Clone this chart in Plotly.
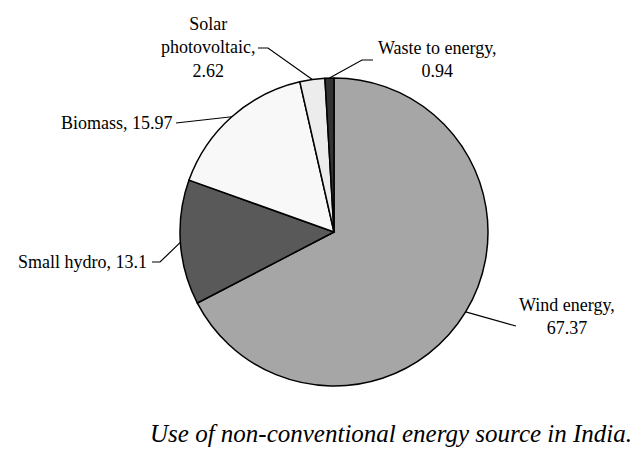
import math
import plotly.graph_objects as go

labels = ["Wind energy", "Small hydro", "Biomass", "Solar photovoltaic", "Waste to energy"]
values = [67.37, 13.1, 15.97, 2.62, 0.94]
label_texts = ["Wind energy,<br>67.37", "Small hydro, 13.1", "Biomass, 15.97",
               "Solar<br>photovoltaic,<br>2.62", "Waste to energy,<br>0.94"]
colors = ["#a6a6a6", "#595959", "#f8f8f8", "#ececec", "#333333"]
caption = "Use of non-conventional energy source in India."

W, H = 640, 459
CX, CY, R = 334, 232, 154
FONT = "Liberation Serif, Times New Roman, DejaVu Serif, serif"

def px(x):
    return x / W

def py(y):
    return 1 - y / H

fig = go.Figure(go.Pie(
    labels=labels, values=values, sort=False, direction="clockwise", rotation=0,
    marker=dict(colors=colors, line=dict(color="black", width=1.5)),
    textinfo="none", hoverinfo="label+value", showlegend=False,
    domain=dict(x=[px(CX - R), px(CX + R)], y=[py(CY + R), py(CY - R)]),
))

# label placement (layout): anchor point, xanchor, elbow points of leader
label_layout = [
    dict(x=567, y=316, xanchor="center", elbow=[(516, 326)]),
    dict(x=149, y=262, xanchor="right", elbow=[(160, 262), (152, 262)]),
    dict(x=175, y=123, xanchor="right", elbow=[(176, 123)]),
    dict(x=208, y=47, xanchor="center", elbow=[(268, 48), (258, 48)]),
    dict(x=437, y=60, xanchor="center", elbow=[(362, 60), (373, 60)]),
]

total = sum(values)
cum = 0.0
shapes = []
annotations = []
for v, txt, lay in zip(values, label_texts, label_layout):
    mid = (cum + v / 2) / total * 2 * math.pi
    cum += v
    ex = CX + R * math.sin(mid)
    ey = CY - R * math.cos(mid)
    pts = [(ex, ey)] + lay["elbow"]
    path = "M " + " L ".join(f"{px(a)} {py(b)}" for a, b in pts)
    shapes.append(dict(type="path", xref="paper", yref="paper", path=path,
                       line=dict(color="black", width=1.2)))
    annotations.append(dict(x=px(lay["x"]), y=py(lay["y"]), xref="paper", yref="paper",
                            text=txt, showarrow=False, xanchor=lay["xanchor"], yanchor="middle",
                            align="center",
                            font=dict(family=FONT, size=18, color="black")))

annotations.append(dict(x=px(634), y=py(433), xref="paper", yref="paper",
                        text=f"<i>{caption}</i>", showarrow=False, xanchor="right", yanchor="middle",
                        font=dict(family=FONT, size=25, color="black")))

fig.update_layout(width=W, height=H, margin=dict(l=0, r=0, t=0, b=0),
                  paper_bgcolor="white", plot_bgcolor="white",
                  font=dict(family=FONT),
                  shapes=shapes, annotations=annotations)
fig.write_html("out.html", config={"displayModeBar": False},
               post_script="document.body.style.margin='0';document.body.style.padding='0';")
